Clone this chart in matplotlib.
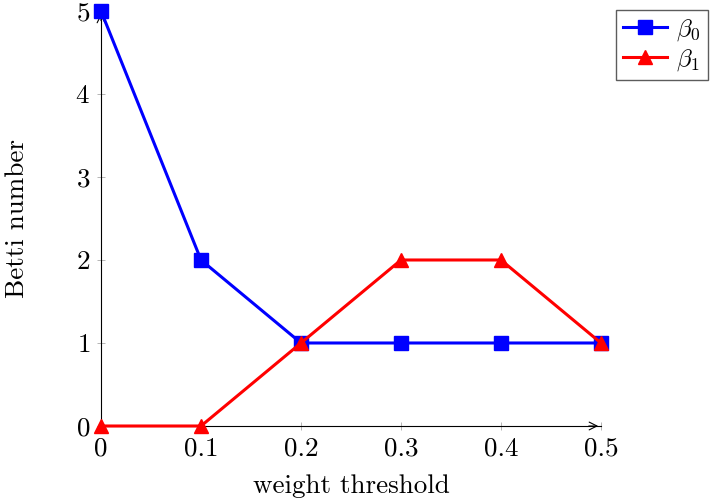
import numpy as np
import matplotlib.pyplot as plt

# Betti numbers against weight threshold
threshold = [0, 0.1, 0.2, 0.3, 0.4, 0.5]
beta0 = [5, 2, 1, 1, 1, 1]
beta1 = [0, 0, 1, 2, 2, 1]

plt.rcParams['font.family'] = 'cmr10'
plt.rcParams['mathtext.fontset'] = 'cm'
plt.rcParams['axes.formatter.use_mathtext'] = True

fig = plt.figure(figsize=(7.18, 4.99), dpi=100)
ax = fig.add_axes([0.1407, 0.1463, 0.8370 - 0.1407, 0.978 - 0.1463])

ax.plot(threshold, beta0, color='blue', lw=2.2, marker='s', ms=9.5, label=r'$\beta_0$', clip_on=False, zorder=3)
ax.plot(threshold, beta1, color='red', lw=2.2, marker='^', ms=10.5, label=r'$\beta_1$', clip_on=False, zorder=4)

ax.set_xlim(0, 0.5)
ax.set_ylim(0, 5)
ax.set_xticks(threshold)
ax.set_xticklabels(['0', '0.1', '0.2', '0.3', '0.4', '0.5'])
ax.set_yticks(range(6))

# pgfplots-like left/bottom axes with arrows
ax.spines['top'].set_visible(False)
ax.spines['right'].set_visible(False)
ax.spines['left'].set_linewidth(0.8)
ax.spines['bottom'].set_linewidth(0.8)
ax.annotate('', xy=(1.0, 0), xytext=(0.97, 0), xycoords='axes fraction',
            arrowprops=dict(arrowstyle='->', color='black', lw=0.8, mutation_scale=14), zorder=2)
ax.annotate('', xy=(0, 1.0), xytext=(0, 0.97), xycoords='axes fraction',
            arrowprops=dict(arrowstyle='->', color='black', lw=0.8, mutation_scale=14), zorder=2)
ax.tick_params(direction='inout', length=6, width=0.6, color='#aaaaaa', labelsize=19.5, pad=5)

ax.set_xlabel('weight threshold', fontsize=19.5, labelpad=10)
ax.set_ylabel('Betti number', fontsize=19.5, labelpad=33)

ax.legend(loc='upper left', bbox_to_anchor=(1.03, 1.002), fontsize=18, frameon=True,
          fancybox=False, edgecolor='#333333', handlelength=1.75, borderaxespad=0,
          handletextpad=0.35, labelspacing=0.15, borderpad=0.3)

fig.savefig('out.png', dpi=100)
